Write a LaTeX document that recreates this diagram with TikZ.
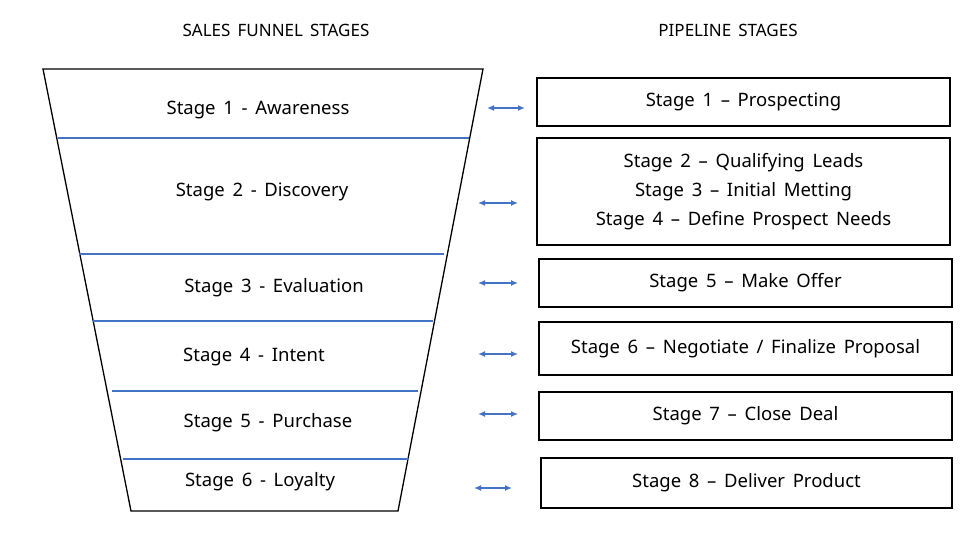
\documentclass[tikz,border=0pt]{standalone}
\usepackage{fontspec}
\setmainfont{Noto Sans}[WordSpace={1.6}]
\usetikzlibrary{arrows.meta}
\definecolor{lineblue}{RGB}{68,114,196}
\begin{document}
\begin{tikzpicture}
      [ x=1pt, y=-1pt
      , stage/.style={font=\fontsize{18.5}{29}\selectfont, align=center}
      , title/.style={font=\fontsize{17}{20}\selectfont}
      , pipe/.style={draw, line width=1.3pt, stage}
      , split/.style={lineblue, line width=1.2pt}
      , link/.style={{Latex[length=7pt,width=6pt]}-{Latex[length=7pt,width=6pt]}, lineblue, line width=1.3pt}
      ]
    \useasboundingbox (0,0) rectangle (980,535);
    \node[title] (TF) at (276,30) {SALES FUNNEL STAGES};
    \node[title] (TP) at (728,30) {PIPELINE STAGES};

    % funnel
    \draw[line width=1.3pt] (43,69) -- (483,69) -- (398,511) -- (131,511) -- cycle;
    \draw[split] (58,138) -- (469,138);
    \draw[split] (79,254) -- (444,254);
    \draw[split] (93,321) -- (433,321);
    \draw[split] (112,391) -- (418,391);
    \draw[split] (123,459) -- (409,459);

    \node[stage] (F1) at (258,110) {Stage 1 - Awareness};
    \node[stage] (F2) at (262,192) {Stage 2 - Discovery};
    \node[stage] (F3) at (274,288) {Stage 3 - Evaluation};
    \node[stage] (F4) at (254,357) {Stage 4 - Intent};
    \node[stage] (F5) at (268,423) {Stage 5 - Purchase};
    \node[stage] (F6) at (260,482) {Stage 6 - Loyalty};

    % pipeline
    \node[pipe, minimum width=413, minimum height=48] (P1) at (743.5,102) {Stage 1 – Prospecting};
    \node[pipe, minimum width=413, minimum height=107] (P2) at (743.5,191.5) {Stage 2 – Qualifying Leads\\Stage 3 – Initial Metting\\Stage 4 – Define Prospect Needs};
    \node[pipe, minimum width=413, minimum height=48] (P3) at (745.5,283) {Stage 5 – Make Offer};
    \node[pipe, minimum width=413, minimum height=53] (P4) at (745.5,348.5) {Stage 6 – Negotiate / Finalize Proposal};
    \node[pipe, minimum width=413, minimum height=48] (P5) at (745.5,416) {Stage 7 – Close Deal};
    \node[pipe, minimum width=411, minimum height=50] (P6) at (746.5,483) {Stage 8 – Deliver Product};

    \coordinate (A1l) at (487,108); \coordinate (A1r) at (525,108);
    \coordinate (A2l) at (478,203); \coordinate (A2r) at (518,203);
    \coordinate (A3l) at (478,283); \coordinate (A3r) at (518,283);
    \coordinate (A4l) at (478,354); \coordinate (A4r) at (518,354);
    \coordinate (A5l) at (478,414); \coordinate (A5r) at (518,414);
    \coordinate (A6l) at (474,488); \coordinate (A6r) at (512,488);
    \draw[link] (A1l) -- (A1r);
    \draw[link] (A2l) -- (A2r);
    \draw[link] (A3l) -- (A3r);
    \draw[link] (A4l) -- (A4r);
    \draw[link] (A5l) -- (A5r);
    \draw[link] (A6l) -- (A6r);
\end{tikzpicture}
\end{document}
